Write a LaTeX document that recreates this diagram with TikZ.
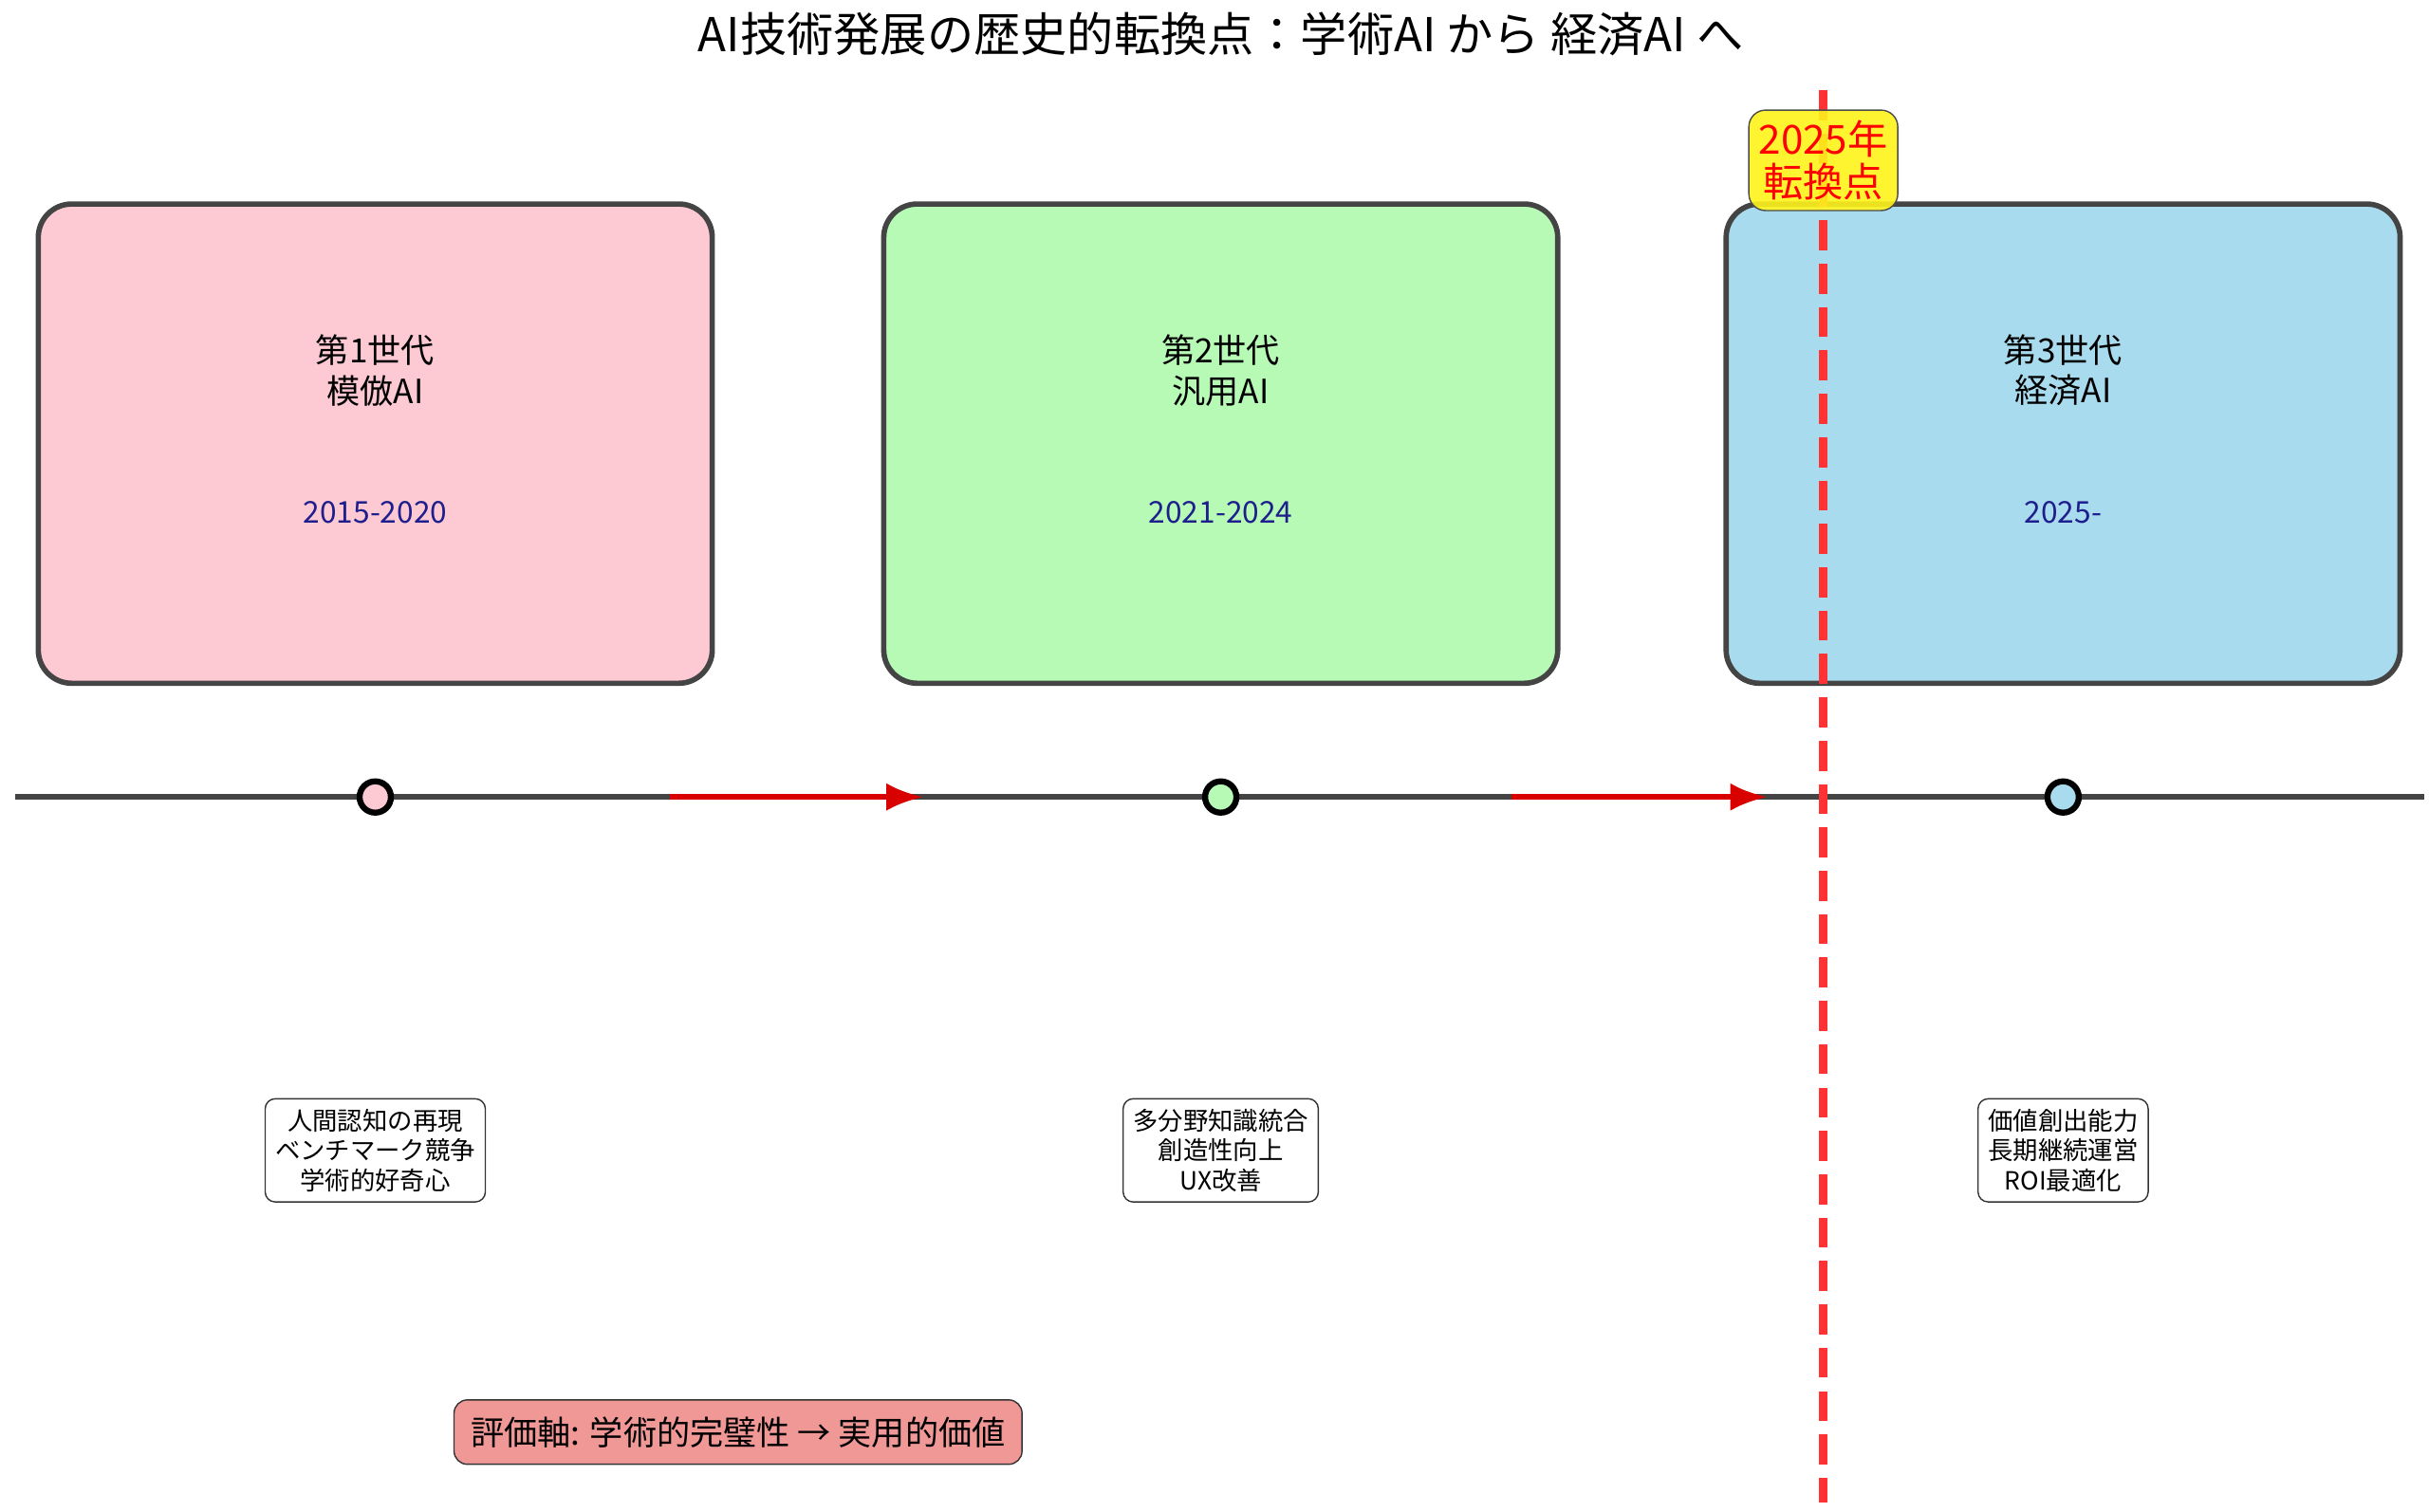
\documentclass[tikz,border=0pt]{standalone}
\usepackage{fontspec}
\setmainfont{Noto Sans CJK JP}
\usetikzlibrary{arrows.meta, positioning}
\definecolor{genpink}{RGB}{253,201,211}
\definecolor{gengreen}{RGB}{182,250,182}
\definecolor{genblue}{RGB}{169,219,238}
\definecolor{evalred}{RGB}{240,152,150}
\definecolor{edgegray}{RGB}{68,68,68}

\begin{document}
\begin{tikzpicture}[x=0.01641cm, y=-0.01641cm,
  genbox/.style={draw=edgegray, line width=1.6pt, rounded corners=10pt,
                 minimum width=7.1cm, minimum height=5.05cm},
  gentext/.style={align=center, font=\fontsize{10}{12}\selectfont},
  years/.style={font=\fontsize{9}{11}\selectfont, text={rgb,255:red,30;green,30;blue,140}},
  dot/.style={circle, draw=black, line width=1.8pt, minimum size=0.33cm, inner sep=0pt},
  note/.style={draw=black!80, rounded corners=3pt, fill=white, align=center,
               font=\fontsize{7.5}{9}\selectfont, inner sep=3pt},
  arr/.style={-Latex, line width=1.8pt, red!85!black},
]
  \useasboundingbox (0,0) rectangle (1560,971);

  % title
  \node[font=\fontsize{14}{17}\selectfont] (title) at (784,22)
       {AI技術発展の歴史的転換点：学術AI から 経済AI へ};

  % generation boxes
  \node[genbox, fill=genpink] (gen1) at (241,285) {};
  \node[genbox, fill=gengreen] (gen2) at (784,285) {};
  \node[genbox, fill=genblue] (gen3) at (1325,285) {};
  \node[gentext] at (241,238) {第1世代\\模倣AI};
  \node[gentext] at (784,238) {第2世代\\汎用AI};
  \node[gentext] at (1325,238) {第3世代\\経済AI};
  \node[years] at (241,329) {2015-2020};
  \node[years] at (784,329) {2021-2024};
  \node[years] at (1325,329) {2025-};

  % timeline
  \coordinate (tstart) at (10,512);
  \coordinate (tend) at (1557,512);
  \draw[edgegray, line width=1.8pt] (tstart) -- (tend);
  \coordinate (a1s) at (430,512);
  \coordinate (a1e) at (593,512);
  \coordinate (a2s) at (971,512);
  \coordinate (a2e) at (1135,512);
  \draw[arr] (a1s) -- (a1e);
  \draw[arr] (a2s) -- (a2e);
  \node[dot, fill=genpink] (d1) at (241,512) {};
  \node[dot, fill=gengreen] (d2) at (784,512) {};
  \node[dot, fill=genblue] (d3) at (1325,512) {};

  % turning point
  \coordinate (vtop) at (1171,58);
  \coordinate (vbot) at (1171,965);
  \draw[red!80, line width=2.6pt, dash pattern=on 9pt off 4pt] (vtop) -- (vbot);
  \node[draw=black!70, rounded corners=5pt, fill=yellow!90, fill opacity=0.9, text opacity=1,
        text=red, align=center, font=\fontsize{12}{13}\selectfont, inner sep=3pt]
       (turn) at (1171,103) {2025年\\転換点};

  % notes
  \node[note] (n1) at (241,739) {人間認知の再現\\ベンチマーク競争\\学術的好奇心};
  \node[note] (n2) at (784,739) {多分野知識統合\\創造性向上\\UX改善};
  \node[note] (n3) at (1325,739) {価値創出能力\\長期継続運営\\ROI最適化};

  % evaluation axis
  \node[draw=black!80, rounded corners=4pt, fill=evalred, inner sep=5pt,
        font=\fontsize{10}{12}\selectfont] (eval) at (474,920)
       {評価軸: 学術的完璧性 → 実用的価値};
\end{tikzpicture}
\end{document}
